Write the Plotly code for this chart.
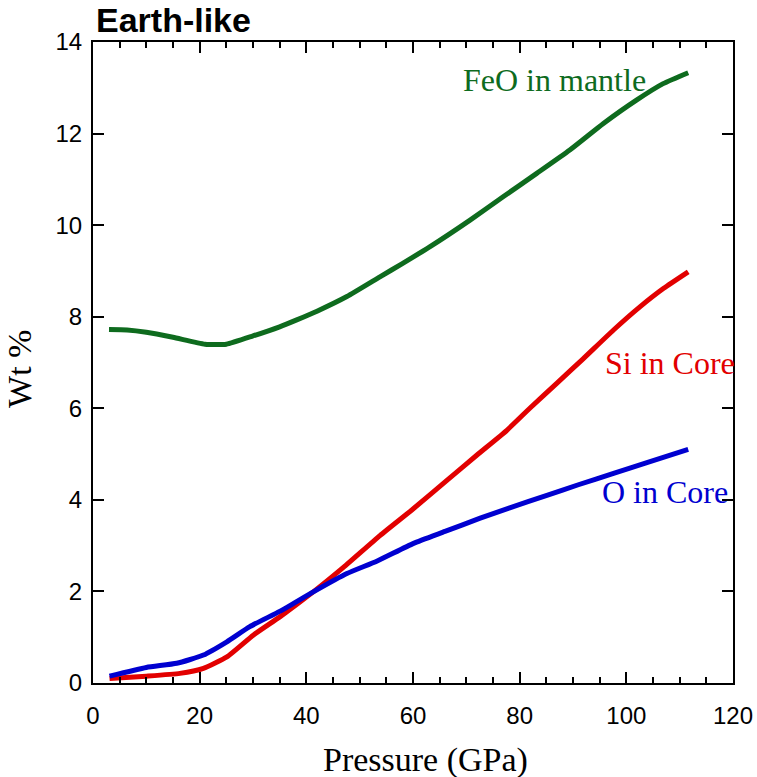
import plotly.graph_objects as go

# Pressure (GPa) and weight-percent curves
feo_p = [3, 6.4, 10, 15, 21, 25, 30, 35, 38.2, 42, 47.6, 53.8, 58, 63.2, 70.7,
         76.9, 83.2, 89.4, 95.7, 101.9, 106.9, 111.6]
feo_wt = [7.72, 7.71, 7.66, 7.55, 7.40, 7.40, 7.58, 7.78, 7.93, 8.12, 8.44, 8.87,
          9.16, 9.53, 10.11, 10.62, 11.13, 11.64, 12.22, 12.73, 13.09, 13.33]

si_p = [3.1, 10, 16.3, 20.7, 25.1, 30.1, 35.1, 41.3, 47, 53.8, 60, 66.3, 72,
        77.6, 81.9, 87, 91.9, 97.6, 102.6, 107, 111.6]
si_wt = [0.10, 0.15, 0.21, 0.32, 0.57, 1.05, 1.45, 1.99, 2.53, 3.22, 3.80, 4.42,
         4.98, 5.52, 6.0, 6.55, 7.08, 7.71, 8.22, 8.62, 8.98]

o_p = [3.1, 10, 15.7, 20.7, 25.1, 29.4, 35.1, 41.3, 47.6, 53.2, 60.1, 66, 72.6,
       78, 85.1, 91, 97.6, 104, 111.6]
o_wt = [0.15, 0.34, 0.43, 0.61, 0.90, 1.23, 1.57, 1.99, 2.39, 2.66, 3.05, 3.31,
        3.60, 3.82, 4.10, 4.33, 4.58, 4.82, 5.10]

series = [
    ("FeO in mantle", feo_p, feo_wt, "#0e6b1e"),
    ("Si in Core", si_p, si_wt, "#e20000"),
    ("O in Core", o_p, o_wt, "#0000d0"),
]

# label anchor positions (data coordinates, left-anchored)
label_pos = {"FeO in mantle": (69.0, 13.17),
             "Si in Core": (95.6, 6.99),
             "O in Core": (95.1, 4.17)}

SERIF = "Times New Roman, Liberation Serif, serif"
SANS = "Arial, Liberation Sans, sans-serif"

fig = go.Figure()
for name, p, w, color in series:
    fig.add_trace(go.Scatter(x=p, y=w, mode="lines", name=name,
                             line=dict(color=color, width=5, shape="spline",
                                       smoothing=0.5)))
    lx, ly = label_pos[name]
    fig.add_annotation(x=lx, y=ly, xref="x", yref="y", text=name,
                       showarrow=False, xanchor="left", yanchor="middle",
                       font=dict(family=SERIF, size=32, color=color))

axis_common = dict(showgrid=False, zeroline=False, showline=True,
                   automargin=False,
                   linecolor="black", linewidth=2, mirror="ticks",
                   ticks="inside", tickcolor="black", tickwidth=2,
                   tickfont=dict(family=SANS, size=24, color="black"))

fig.update_xaxes(range=[0, 120], tick0=0, dtick=20, ticklen=11,
                 ticklabelstandoff=10,
                 minor=dict(dtick=5, ticks="inside", ticklen=6,
                            tickcolor="black", tickwidth=2),
                 **axis_common)
fig.update_yaxes(range=[0, 14], tick0=0, dtick=2, ticklen=11,
                 ticklabelstandoff=4, **axis_common)

# axis titles
fig.add_annotation(x=0.52, y=-0.120, xref="paper", yref="paper",
                   text="Pressure (GPa)", showarrow=False,
                   xanchor="center", yanchor="middle",
                   font=dict(family=SERIF, size=34, color="black"))
fig.add_annotation(x=-0.114, y=0.49, xref="paper", yref="paper",
                   text="Wt %", showarrow=False, textangle=-90,
                   xanchor="center", yanchor="middle",
                   font=dict(family=SERIF, size=34, color="black"))

fig.update_layout(
    width=757, height=777,
    margin=dict(l=93, r=24, t=42, b=94),
    paper_bgcolor="white", plot_bgcolor="white",
    showlegend=False,
    title=dict(text="<b>Earth-like</b>", xref="container", yref="container",
               x=96 / 757, y=1 - 20 / 777, xanchor="left", yanchor="middle",
               font=dict(family=SANS, size=34, color="black")),
)

fig.write_html("out.html")
